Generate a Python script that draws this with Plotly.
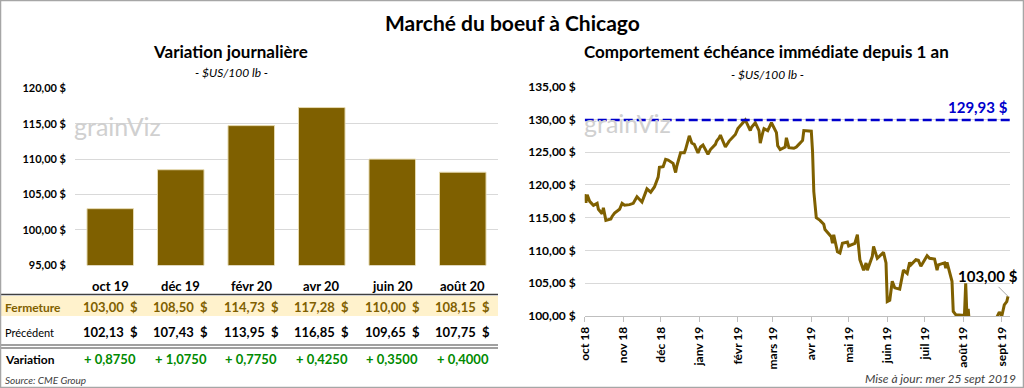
import plotly.graph_objects as go

# ---------------- data ----------------
contracts = ["oct 19", "déc 19", "févr 20", "avr 20", "juin 20", "août 20"]
fermeture = [103.00, 108.50, 114.73, 117.28, 110.00, 108.15]
precedent = [102.13, 107.43, 113.95, 116.85, 109.65, 107.75]
variation = [0.8750, 1.0750, 0.7750, 0.4250, 0.3500, 0.4000]

bar_ticks = [95, 100, 105, 110, 115, 120]
bar_ticktext = ["95,00 $", "100,00 $", "105,00 $", "110,00 $", "115,00 $", "120,00 $"]

line_dates = [
    "2018-10-01", "2018-10-02", "2018-10-03", "2018-10-05", "2018-10-08", "2018-10-11", "2018-10-12",
    "2018-10-15", "2018-10-16", "2018-10-18", "2018-10-22", "2018-10-23", "2018-10-25", "2018-10-29",
    "2018-10-31", "2018-11-02", "2018-11-06", "2018-11-09", "2018-11-12", "2018-11-16", "2018-11-20",
    "2018-11-23", "2018-11-26", "2018-11-29", "2018-11-30", "2018-12-03", "2018-12-05", "2018-12-07",
    "2018-12-11", "2018-12-13", "2018-12-14", "2018-12-17", "2018-12-20", "2018-12-21", "2018-12-24",
    "2018-12-26", "2018-12-28", "2018-12-31", "2019-01-02", "2019-01-04", "2019-01-08", "2019-01-10",
    "2019-01-14", "2019-01-15", "2019-01-17", "2019-01-18", "2019-01-22", "2019-01-25", "2019-01-30",
    "2019-02-01", "2019-02-07", "2019-02-11", "2019-02-12", "2019-02-15", "2019-02-18", "2019-02-19",
    "2019-02-21", "2019-02-22", "2019-02-25", "2019-02-28", "2019-03-04", "2019-03-05", "2019-03-07",
    "2019-03-11", "2019-03-12", "2019-03-14", "2019-03-18", "2019-03-20", "2019-03-22", "2019-03-25",
    "2019-03-26", "2019-04-01", "2019-04-02", "2019-04-03", "2019-04-05", "2019-04-08", "2019-04-11",
    "2019-04-12", "2019-04-17", "2019-04-18", "2019-04-19", "2019-04-22", "2019-04-24", "2019-04-26",
    "2019-04-30", "2019-05-01", "2019-05-06", "2019-05-08", "2019-05-10", "2019-05-13", "2019-05-15",
    "2019-05-16", "2019-05-20", "2019-05-21", "2019-05-24", "2019-05-27", "2019-05-29", "2019-05-31",
    "2019-06-01", "2019-06-03", "2019-06-05", "2019-06-07", "2019-06-11", "2019-06-14", "2019-06-17",
    "2019-06-19", "2019-06-20", "2019-06-24", "2019-06-26", "2019-06-28", "2019-07-03", "2019-07-05",
    "2019-07-09", "2019-07-11", "2019-07-12", "2019-07-17", "2019-07-18", "2019-07-19", "2019-07-23",
    "2019-07-24", "2019-07-26", "2019-07-31", "2019-08-02", "2019-08-03", "2019-08-04", "2019-08-05",
    "2019-08-06", "2019-08-12", "2019-08-19", "2019-08-26", "2019-08-30", "2019-09-01", "2019-09-03",
    "2019-09-05", "2019-09-06",
]
line_values = [
    118.6, 117.3, 118.5, 117.5, 116.9, 117.2, 116.3,
    115.6, 116.5, 114.6, 114.8, 115.2, 115.7, 116.3,
    117.2, 116.9, 117.0, 117.2, 118.2, 117.4, 119.4,
    118.9, 119.7, 121.2, 122.7, 122.8, 123.9, 123.8,
    123.3, 121.9, 122.9, 124.9, 124.9, 125.4, 127.5,
    126.4, 126.2, 124.9, 125.8, 126.1, 124.7, 125.4,
    126.2, 126.7, 127.2, 127.6, 125.8, 126.7, 127.7,
    128.6, 129.93, 128.3, 128.8, 129.5, 128.3, 126.4,
    128.0, 128.6, 128.3, 129.5, 128.0, 126.0, 125.4,
    125.8, 127.2, 125.7, 125.6, 125.8, 126.2, 126.8,
    128.3, 128.2, 125.1, 119.0, 115.0, 114.6, 114.0,
    113.2, 112.1, 111.1, 112.4, 109.8, 109.6, 111.1,
    111.3, 110.7, 111.1, 112.4, 108.6, 107.0, 108.1,
    107.0, 109.1, 110.6, 108.8, 109.4, 109.7, 108.1,
    102.2, 102.4, 105.3, 104.3, 104.1, 107.0, 106.5,
    108.2, 107.8, 108.6, 108.5, 107.6, 109.2, 108.8,
    108.7, 107.0, 107.8, 108.1, 107.3, 108.2, 105.3,
    100.7, 100.2, 100.1, 100.1, 105.0, 100.0, 101.1,
    98.8, 97.5, 98.2, 99.0, 100.6, 100.0, 101.7,
    102.2, 103.0,
]
max_value = 129.93
last_value = 103.00

line_ticks = ["2018-10-01", "2018-11-01", "2018-12-01", "2019-01-01", "2019-02-01", "2019-03-01",
              "2019-04-01", "2019-05-01", "2019-06-01", "2019-07-01", "2019-08-01", "2019-09-01"]
line_ticktext = ["oct 18", "nov 18", "déc 18", "janv 19", "févr 19", "mars 19",
                 "avr 19", "mai 19", "juin 19", "juil 19", "août 19", "sept 19"]
line_yticks = [100, 105, 110, 115, 120, 125, 130, 135]
line_yticktext = ["100,00 $", "105,00 $", "110,00 $", "115,00 $", "120,00 $", "125,00 $", "130,00 $", "135,00 $"]


def fr(v, d=2):
    return f"{v:.{d}f}".replace(".", ",")


W, H = 1024, 388
FONT = "Lato"
GOLD = "#7F6000"


def px(x):
    return x / W


def py(y):
    return 1 - y / H


fig = go.Figure()

fig.add_trace(go.Bar(
    x=contracts, y=fermeture, xaxis="x", yaxis="y",
    marker=dict(color=GOLD, line=dict(color="#E6DAB0", width=1)),
    hoverinfo="skip",
))

fig.add_trace(go.Scatter(
    x=line_dates, y=line_values, xaxis="x2", yaxis="y2", mode="lines",
    line=dict(color=GOLD, width=3), hoverinfo="skip",
))

fig.add_trace(go.Scatter(
    x=[line_dates[0], "2019-09-09"], y=[max_value, max_value], xaxis="x2", yaxis="y2",
    mode="lines", line=dict(color="#0000CC", width=2.5, dash="9px,4px"), hoverinfo="skip",
))

fig.update_layout(
    width=W, height=H,
    margin=dict(l=0, r=0, t=0, b=0, pad=0, autoexpand=False),
    paper_bgcolor="white", plot_bgcolor="white",
    showlegend=False, bargap=0.34,
    font=dict(family=FONT, color="#000000"),
    xaxis=dict(domain=[px(75), px(498)], type="category", showticklabels=False, anchor="y",
               showgrid=False, zeroline=False, showline=False, fixedrange=True, automargin=False),
    yaxis=dict(domain=[py(265.3), py(88.3)], range=[95, 120], tickvals=bar_ticks, anchor="x",
               ticktext=bar_ticktext, showgrid=True, gridcolor="#D9D9D9", gridwidth=1,
               zeroline=False, showline=False, ticks="", automargin=False,
               tickfont=dict(family=FONT, size=11, color="#000000", weight="bold"),
               ticklabelstandoff=8),
    xaxis2=dict(domain=[px(584.7), px(1010)], type="date", automargin=False, anchor="y2",
                range=["2018-10-01", "2019-09-07 14:00"],
                tickvals=line_ticks, ticktext=line_ticktext, tickangle=-90,
                showgrid=False, zeroline=False, showline=True, linecolor="#BFBFBF",
                ticks="outside", ticklen=5, tickcolor="#BFBFBF",
                tickfont=dict(family=FONT, size=12, color="#000000", weight="bold")),
    yaxis2=dict(domain=[py(316), py(86.7)], anchor="x2", range=[100, 135], automargin=False,
                tickvals=line_yticks, ticktext=line_yticktext, showgrid=True,
                gridcolor="#D9D9D9", gridwidth=1, zeroline=False, showline=False, ticks="",
                tickfont=dict(family=FONT, size=12, color="#000000", weight="bold"),
                ticklabelstandoff=8),
)

ann = []
shapes = []


def txt(text, x, y, size, color="#000000", xanchor="center", xref="paper", yref="paper"):
    ann.append(dict(text=text, x=x, y=y, xref=xref, yref=yref, xanchor=xanchor, yanchor="middle",
                    showarrow=False, font=dict(size=size, family=FONT, color=color)))


# Titles
txt("<b>Marché du boeuf à Chicago</b>", 0.5, py(22), 21)
txt("<b>Variation journalière</b>", px(230), py(52), 17)
txt("<i>- $US/100 lb -</i>", px(231), py(72), 12)
txt("<b>Comportement échéance immédiate depuis 1 an</b>", px(766), py(52), 17)
txt("<i>- $US/100 lb -</i>", px(767), py(74), 12)

# watermarks
for wx, wy in [(72, 126), (582, 123)]:
    txt("grainViz", px(wx), py(wy), 25, color="#D0D0D0", xanchor="left")

# table rows
shapes.append(dict(type="rect", xref="paper", yref="paper", x0=0, x1=px(498), y0=py(316), y1=py(296),
                   fillcolor="#FFF2CC", line=dict(width=0), layer="below"))
shapes.append(dict(type="line", xref="paper", yref="paper", x0=0, x1=px(498), y0=py(294.5), y1=py(294.5),
                   line=dict(color="#404040", width=1.5)))
shapes.append(dict(type="line", xref="paper", yref="paper", x0=0, x1=px(498), y0=py(345), y1=py(345),
                   line=dict(color="#808080", width=1.5)))
shapes.append(dict(type="line", xref="paper", yref="paper", x0=0, x1=px(498), y0=py(348), y1=py(348),
                   line=dict(color="#808080", width=1.5)))

txt("<b>Fermeture</b>", px(3), py(307), 12, color=GOLD, xanchor="left")
txt("Précédent", px(3), py(332), 11, xanchor="left")
txt("<b>Variation</b>", px(3), py(359), 12, xanchor="left")

for c, f, p, v in zip(contracts, fermeture, precedent, variation):
    txt(f"<b>{c}</b>", c, py(286), 13, xref="x")
    txt(f"<b>{fr(f)}  $</b>", c, py(307), 13, color=GOLD, xref="x")
    txt(f"<b>{fr(p)}  $</b>", c, py(332), 13, xref="x")
    txt(f"<b>+ {fr(v, 4)}</b>", c, py(359), 13, color="#008A00", xref="x")

txt("<i>Source: CME Group</i>", px(3), py(380), 10, color="#404040", xanchor="left")
txt("<i>Mise à jour: mer 25 sept 2019</i>", px(1018), py(378), 12, color="#404040", xanchor="right")

# line chart labels
ann.append(dict(text=f"<b>{fr(max_value)} $</b>", x=px(1010), y=max_value, xref="paper", yref="y2",
                xanchor="right", yanchor="bottom", yshift=2, showarrow=False,
                font=dict(size=15, family=FONT, color="#0000CC")))
ann.append(dict(text=f"<b>{fr(last_value)} $</b>", x=line_dates[-1], y=last_value, xref="x2", yref="y2",
                showarrow=True, arrowhead=0, arrowwidth=1, arrowcolor="#A6A6A6", ax=-20, ay=-20,
                font=dict(size=15, family=FONT, color="#000000")))

# frame
shapes.append(dict(type="rect", xref="paper", yref="paper", x0=0.0005, x1=0.9995, y0=0.0013, y1=0.9987,
                   line=dict(color="#A6A6A6", width=1.5)))

fig.update_layout(annotations=ann, shapes=shapes)
fig.write_html("out.html", config={"displayModeBar": False, "staticPlot": True},
               post_script="document.body.style.margin='0';document.body.style.overflow='hidden';")
